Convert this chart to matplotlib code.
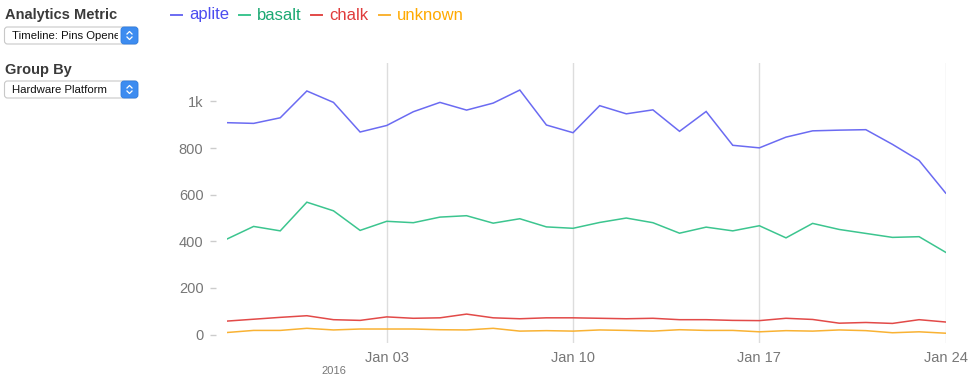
import pandas as pd
import matplotlib
matplotlib.use("Agg")
import matplotlib.pyplot as plt
import matplotlib.dates as mdates
from matplotlib.patches import FancyBboxPatch, Rectangle

plt.rcParams['font.family'] = ['Liberation Sans', 'DejaVu Sans']

# daily values, Dec 28 2015 .. Jan 24 2016
dates = pd.date_range('2015-12-28', '2016-01-24', freq='D')
aplite = [909, 906, 930, 1045, 996, 869, 897, 956, 996, 963, 993, 1049, 899, 866,
          982, 947, 964, 872, 957, 812, 801, 847, 874, 877, 879, 816, 747, 607]
basalt = [410, 464, 445, 568, 531, 447, 486, 480, 504, 510, 478, 497, 462, 456,
          481, 500, 480, 435, 461, 445, 467, 415, 477, 451, 434, 417, 420, 353]
chalk = [58, 66, 74, 81, 64, 61, 76, 70, 72, 88, 72, 68, 72, 72,
         70, 68, 70, 64, 64, 61, 60, 70, 65, 49, 52, 48, 64, 54]
unknown = [9, 18, 18, 27, 20, 24, 24, 24, 21, 20, 27, 15, 17, 15,
           20, 18, 15, 21, 18, 18, 12, 17, 15, 20, 17, 8, 12, 6]

series_names = ['aplite', 'basalt', 'chalk', 'unknown']
line_colors = ['#6b6bf2', '#3cc58f', '#e24a48', '#f9b233']
text_colors = ['#4c4cf0', '#1aa872', '#e03b3b', '#ffaa00']
ytick_vals = [0, 200, 400, 600, 800, 1000]
ytick_labels = ['0', '200', '400', '600', '800', '1k']
xtick_dates = pd.to_datetime(['2016-01-03', '2016-01-10', '2016-01-17', '2016-01-24'])

W, H = 970, 376
fig = plt.figure(figsize=(W / 100, H / 100), dpi=100)

# overlay in pixel coords for the ui widgets and legend
ui = fig.add_axes([0, 0, 1, 1])
ui.set_xlim(0, W)
ui.set_ylim(H, 0)
ui.axis('off')

ax = fig.add_axes([227 / W, 1 - 343 / H, (945.7 - 227) / W, (343 - 63) / H])
for name, vals, col in zip(series_names, [aplite, basalt, chalk, unknown], line_colors):
    ax.plot(dates, vals, color=col, lw=1.1, solid_joinstyle='miter')

ax.set_xlim(dates[0], dates[-1])
ax.set_ylim(-36, 1165)
for s in ax.spines.values():
    s.set_visible(False)
ax.spines['left'].set_position(('outward', 8))
ax.set_yticks(ytick_vals)
ax.set_yticklabels(ytick_labels)
ax.tick_params(axis='y', length=4, width=1, color='#cccccc', labelcolor='#777777',
               labelsize=10.5, pad=5)
ax.set_xticks(xtick_dates)
ax.xaxis.set_major_formatter(mdates.DateFormatter('%b %d'))
ax.tick_params(axis='x', length=0, labelcolor='#777777', labelsize=10.5, pad=6)
ax.grid(axis='x', color='#dddddd', lw=1)
ax.set_axisbelow(True)
ax.text(pd.Timestamp('2016-01-01'), -0.1, '2016', transform=ax.get_xaxis_transform(),
        ha='center', va='center', fontsize=8, color='#777777')

# legend across the top
leg_x = [171, 239, 311, 379]
for x0, name, lc, tc in zip(leg_x, series_names, line_colors, text_colors):
    ui.plot([x0, x0 + 11], [15, 15], color=lc, lw=1.4)
    ui.text(x0 + 18, 15, name, color=tc, fontsize=12, va='center', ha='left')

# left control panel
ui.text(5, 15, 'Analytics Metric', fontsize=10.5, color='#3a3a3a', va='center',
        fontweight='bold')
ui.text(5, 70, 'Group By', fontsize=10.5, color='#3a3a3a', va='center', fontweight='bold')


def dropdown(y0, label):
    box = FancyBboxPatch((4.5, y0), 133, 17, boxstyle='round,pad=0,rounding_size=3',
                         fc='white', ec='#c8c8c8', lw=0.8)
    ui.add_patch(box)
    btn = FancyBboxPatch((121, y0), 17, 17, boxstyle='round,pad=0,rounding_size=3',
                         fc='#3d8cf0', ec='#2f7de0', lw=0.6)
    ui.add_patch(btn)
    # up/down chevrons
    ui.plot([127, 129.5, 132], [y0 + 7, y0 + 4.5, y0 + 7], color='white', lw=0.9)
    ui.plot([127, 129.5, 132], [y0 + 10, y0 + 12.5, y0 + 10], color='white', lw=0.9)
    clip = Rectangle((4.5, y0), 114, 17, transform=ui.transData)
    t = ui.text(12, y0 + 8.8, label, fontsize=8.2, color='#111111', va='center',
                clip_on=True)
    t.set_clip_path(clip)


dropdown(27, 'Timeline: Pins Opened')
dropdown(81, 'Hardware Platform')

fig.savefig('out.png', dpi=100)
